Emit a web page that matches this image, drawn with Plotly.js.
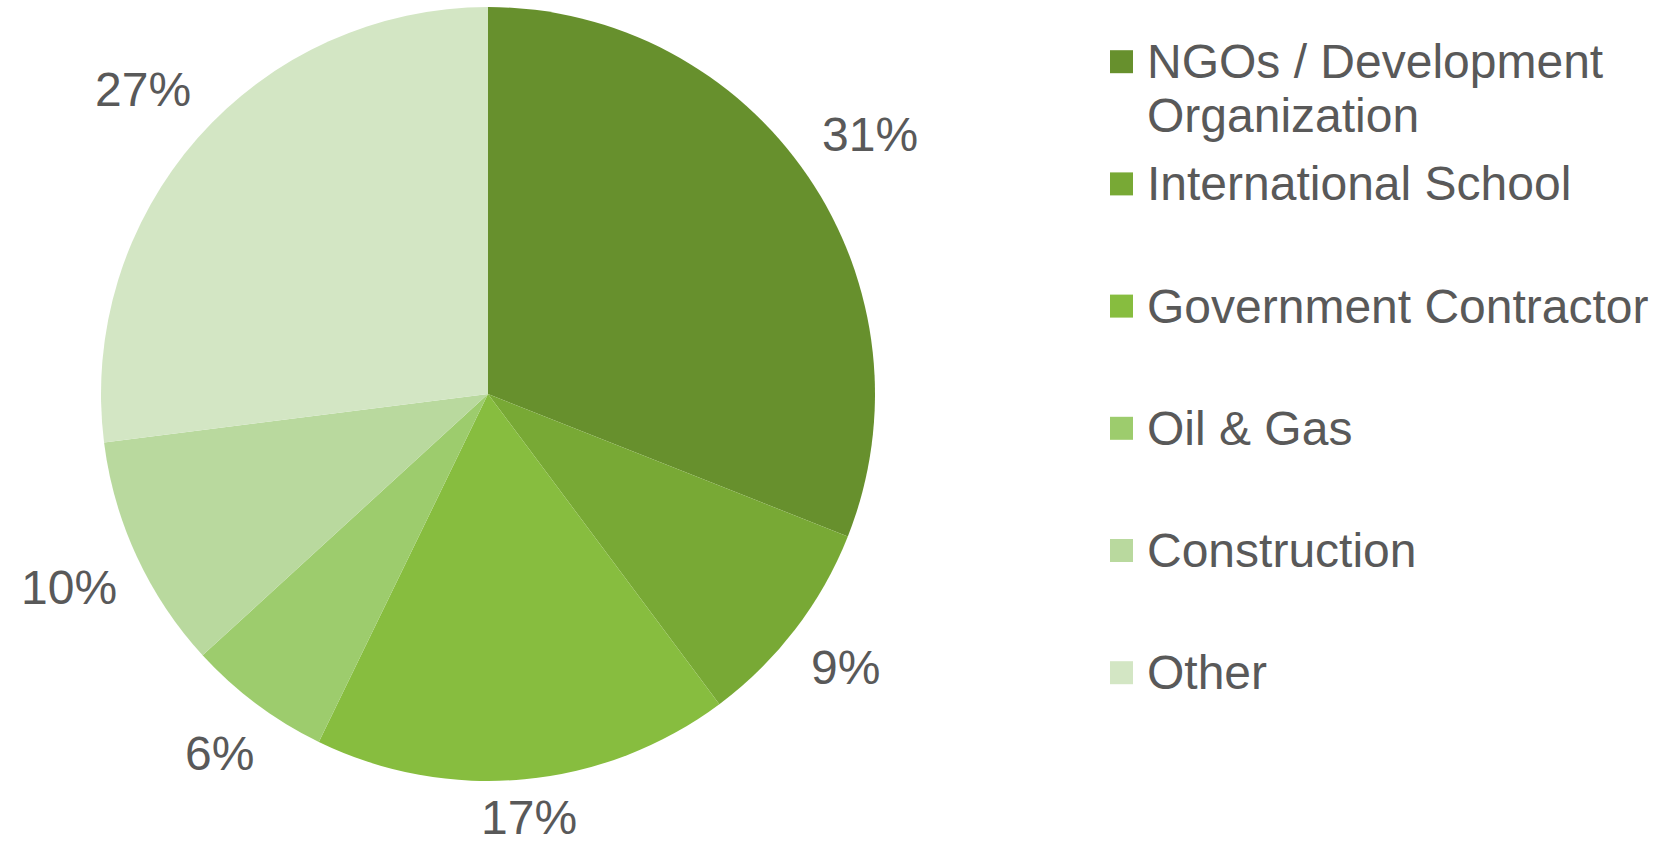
<!DOCTYPE html>
<html><head><meta charset="utf-8">
<script src="https://cdn.plot.ly/plotly-3.0.1.min.js"></script>
<style>html,body{margin:0;padding:0;background:#fff}#chart{width:1657px;height:850px}</style>
</head><body><div id="chart"></div>
<script>
const categories = ["NGOs / Development Organization","International School","Government Contractor","Oil & Gas","Construction","Other"];
const shares = [31.0, 8.8, 17.4, 6.0, 9.8, 27.0];
const sliceColors = ["#67902D","#78A935","#87BD3F","#9DCC6D","#B9D99E","#D3E6C4"];
const legendLines = [["NGOs / Development","Organization"],["International School"],["Government Contractor"],["Oil & Gas"],["Construction"],["Other"]];

const W = 1657, H = 850;
const FONT = "Liberation Sans, Arial, Helvetica, sans-serif";
const TXT = "#595959";
const FS = 48;
const cx = 488, cy = 394, R = 387;

const px = x => x / W;
const py = y => 1 - y / H;

const trace = {
  type: "pie",
  labels: categories,
  values: shares,
  sort: false,
  direction: "clockwise",
  rotation: 0,
  marker: {colors: sliceColors, line: {width: 0}},
  textinfo: "none",
  domain: {x: [px(cx - R), px(cx + R)], y: [py(cy + R), py(cy - R)]},
  showlegend: false,
  hoverinfo: "label+percent"
};

const shapes = [], annotations = [];

// outside-end percentage labels, placed from each slice's mid angle
const total = shares.reduce((a, b) => a + b, 0);
let cum = 0;
shares.forEach((v, i) => {
  const mid = (cum + v / 2) / total * 2 * Math.PI;
  cum += v;
  const label = Math.round(v / total * 100) + "%";
  const hw = ((label.length - 1) * 0.556 + 0.889) * FS / 2;
  const hh = FS * 0.55;
  const s = Math.sin(mid), c = Math.cos(mid);
  const d = R + 20 + hw * Math.abs(s) + hh * Math.abs(c);
  const yPix = Math.min(cy - d * c, H - FS * 0.68);
  annotations.push({xref: "paper", yref: "paper", x: px(cx + d * s), y: py(yPix),
    xanchor: "center", yanchor: "middle", showarrow: false, text: label,
    font: {family: FONT, size: FS, color: TXT}});
});

// legend
const sqX0 = 1110, sqSize = 23, textX = 1145, firstC = 61.7, step = 122.2, lineStep = 54;
categories.forEach((c, i) => {
  const yc = firstC + i * step;
  shapes.push({type: "rect", xref: "paper", yref: "paper",
    x0: px(sqX0), x1: px(sqX0 + sqSize), y0: py(yc + sqSize / 2), y1: py(yc - sqSize / 2),
    fillcolor: sliceColors[i], line: {width: 0}});
  legendLines[i].forEach((t, j) => {
    annotations.push({xref: "paper", yref: "paper", x: px(textX), y: py(yc + j * lineStep),
      xanchor: "left", yanchor: "middle", showarrow: false, text: t,
      font: {family: FONT, size: FS, color: TXT}});
  });
});

Plotly.newPlot("chart", [trace], {
  width: W, height: H,
  margin: {l: 0, r: 0, t: 0, b: 0},
  paper_bgcolor: "#fff", plot_bgcolor: "#fff",
  shapes: shapes, annotations: annotations
}, {displayModeBar: false, staticPlot: true});
</script></body></html>
